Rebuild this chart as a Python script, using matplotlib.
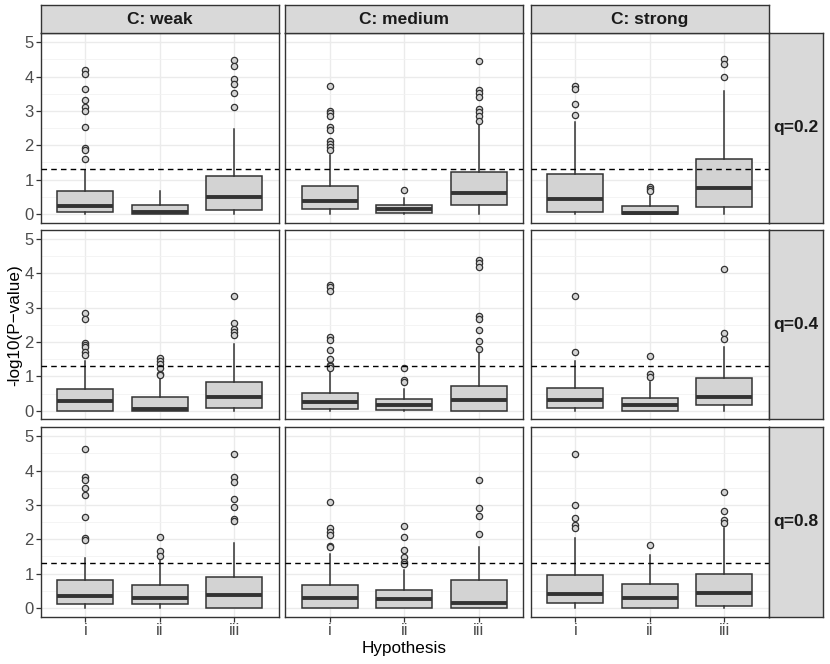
import matplotlib.pyplot as plt
from matplotlib.ticker import MultipleLocator

plt.rcParams['font.family'] = ['Liberation Sans', 'DejaVu Sans']

# ===== DATA =====
hypotheses = ["i", "ii", "iii"]
c_levels = ["C: weak", "C: medium", "C: strong"]
q_levels = ["q=0.2", "q=0.4", "q=0.8"]
threshold = 1.3  # -log10(0.05)

# [row q][col C][hypothesis]
q1_vals = [
    [[0.06, 0.00, 0.12], [0.14, 0.02, 0.27], [0.07, 0.00, 0.21]],
    [[0.00, 0.00, 0.07], [0.05, 0.02, 0.00], [0.09, 0.00, 0.17]],
    [[0.12, 0.11, 0.00], [0.00, 0.00, 0.00], [0.13, 0.00, 0.07]],
]
median_vals = [
    [[0.23, 0.06, 0.48], [0.37, 0.14, 0.61], [0.43, 0.02, 0.75]],
    [[0.27, 0.06, 0.39], [0.24, 0.16, 0.30], [0.30, 0.16, 0.41]],
    [[0.35, 0.28, 0.37], [0.30, 0.27, 0.15], [0.40, 0.28, 0.44]],
]
q3_vals = [
    [[0.66, 0.27, 1.10], [0.80, 0.25, 1.23], [1.17, 0.23, 1.61]],
    [[0.63, 0.39, 0.83], [0.51, 0.34, 0.71], [0.67, 0.36, 0.94]],
    [[0.81, 0.67, 0.91], [0.68, 0.51, 0.81], [0.96, 0.69, 1.00]],
]
whisk_hi = [
    [[1.28, 0.68, 2.48], [1.72, 0.45, 2.69], [2.67, 0.52, 3.58]],
    [[1.46, 1.00, 1.94], [1.20, 0.64, 1.78], [1.44, 0.83, 1.85]],
    [[1.45, 1.42, 1.88], [1.57, 1.11, 1.78], [2.03, 1.54, 2.32]],
]
whisk_lo = [
    [[0.0, 0.0, 0.0], [0.0, 0.0, 0.0], [0.0, 0.0, 0.0]],
    [[0.0, 0.0, 0.0], [0.0, 0.0, 0.0], [0.0, 0.0, 0.0]],
    [[0.0, 0.0, 0.0], [0.0, 0.0, 0.0], [0.0, 0.0, 0.0]],
]
outliers = [
    [
        [[4.20, 4.09, 3.63, 3.32, 3.12, 3.00, 2.54, 1.92, 1.86, 1.61], [],
         [4.49, 4.30, 3.92, 3.77, 3.51, 3.12]],
        [[3.73, 3.01, 2.93, 2.84, 2.53, 2.43, 2.13, 2.03, 1.95, 1.86], [0.69],
         [4.46, 3.62, 3.52, 3.41, 3.07, 2.97, 2.86, 2.71]],
        [[3.74, 3.64, 3.21, 2.88], [0.78, 0.72, 0.66], [4.52, 4.38, 3.99]],
    ],
    [
        [[2.86, 2.66, 1.96, 1.90, 1.87, 1.72, 1.62],
         [1.54, 1.44, 1.35, 1.24, 1.08, 1.03],
         [3.35, 2.56, 2.39, 2.30, 2.22]],
        [[3.67, 3.59, 3.50, 2.15, 2.06, 1.78, 1.50, 1.34, 1.29, 1.25],
         [1.23, 0.89, 0.84],
         [4.39, 4.30, 4.20, 2.76, 2.66, 2.35, 2.03, 1.81]],
        [[3.35, 1.71], [1.58, 1.08, 0.99], [4.12, 2.25, 2.10]],
    ],
    [
        [[4.64, 3.82, 3.72, 3.50, 3.29, 2.64, 2.05, 1.97], [2.06, 1.67, 1.50],
         [4.48, 3.81, 3.66, 3.17, 2.94, 2.58, 2.54]],
        [[3.09, 2.32, 2.20, 2.12, 1.81, 1.76], [2.38, 2.07, 1.69, 1.47, 1.33, 1.28],
         [3.72, 2.90, 2.68, 2.14]],
        [[4.49, 2.99, 2.63, 2.42, 2.32], [1.84], [3.37, 2.83, 2.57, 2.46]],
    ],
]

# ===== LAYOUT (pixels) =====
W, H = 830, 664
fig = plt.figure(figsize=(W / 100, H / 100), dpi=100)

col_left = [40.7, 285.3, 530.7]
panel_w = 238.0
row_top = [33.0, 229.8, 427.0]
panel_h = 189.5
strip_top, strip_h = 5.0, 28.0
rstrip_left, rstrip_w = 768.7, 54.6

dark = "#333333"
box_fill = "#D3D3D3"
strip_fill = "#D9D9D9"


def rect(x, y, w, h):
    return [x / W, 1 - (y + h) / H, w / W, h / H]


def style_strip(sa):
    sa.set_facecolor(strip_fill)
    sa.set_xticks([])
    sa.set_yticks([])
    for s in sa.spines.values():
        s.set_color(dark)
        s.set_linewidth(1.0)


for r in range(3):
    for c in range(3):
        ax = fig.add_axes(rect(col_left[c], row_top[r], panel_w, panel_h))
        stats = []
        for k, h in enumerate(hypotheses):
            stats.append(dict(
                med=median_vals[r][c][k], q1=q1_vals[r][c][k], q3=q3_vals[r][c][k],
                whislo=whisk_lo[r][c][k], whishi=whisk_hi[r][c][k],
                fliers=outliers[r][c][k], label=h))
        ax.bxp(stats, positions=[1, 2, 3], widths=0.75, patch_artist=True,
               showcaps=False,
               boxprops=dict(facecolor=box_fill, edgecolor=dark, linewidth=1.1),
               medianprops=dict(color=dark, linewidth=2.8, solid_capstyle='butt'),
               whiskerprops=dict(color=dark, linewidth=1.1),
               flierprops=dict(marker='o', markerfacecolor=box_fill,
                               markeredgecolor=dark, markersize=4.5,
                               markeredgewidth=0.9))
        ax.axhline(threshold, color="black", linestyle=(0, (4, 3)), linewidth=1.0,
                   zorder=5)
        ax.set_xlim(0.4, 3.6)
        ax.set_ylim(-0.25, 5.27)
        ax.yaxis.set_major_locator(MultipleLocator(1))
        ax.yaxis.set_minor_locator(MultipleLocator(0.5))
        ax.set_axisbelow(True)
        ax.grid(which='major', color='#EBEBEB', linewidth=1.0)
        ax.grid(which='minor', axis='y', color='#F2F2F2', linewidth=0.6)
        for s in ax.spines.values():
            s.set_color(dark)
            s.set_linewidth(1.0)
        ax.tick_params(which='minor', length=0)
        ax.tick_params(which='major', color=dark, length=3.5, width=0.9,
                       labelcolor="#4D4D4D", labelsize=12, pad=1.5)
        if c != 0:
            ax.tick_params(axis='y', length=0, labelleft=False)
        if r != 2:
            ax.tick_params(axis='x', length=0, labelbottom=False)
        else:
            ax.set_xticks([1, 2, 3], hypotheses)

        # right strips
        if c == 2:
            sa = fig.add_axes(rect(rstrip_left, row_top[r], rstrip_w, panel_h))
            style_strip(sa)
            sa.text(0.5, 0.5, q_levels[r], ha='center', va='center',
                    fontsize=12.5, fontweight='bold', color="#1A1A1A",
                    transform=sa.transAxes)

# top strips
for c in range(3):
    sa = fig.add_axes(rect(col_left[c], strip_top, panel_w, strip_h))
    style_strip(sa)
    sa.text(0.5, 0.48, c_levels[c], ha='center', va='center', fontsize=12.5,
            fontweight='bold', color="#1A1A1A", transform=sa.transAxes)

fig.text(15 / W, 1 - 325 / H, "-log10(P\u2212value)", rotation=90, ha='center',
         va='center', fontsize=12.3)
fig.text(404 / W, 1 - 648 / H, "Hypothesis", ha='center', va='center',
         fontsize=12.3)

fig.savefig("out.png", dpi=100)
